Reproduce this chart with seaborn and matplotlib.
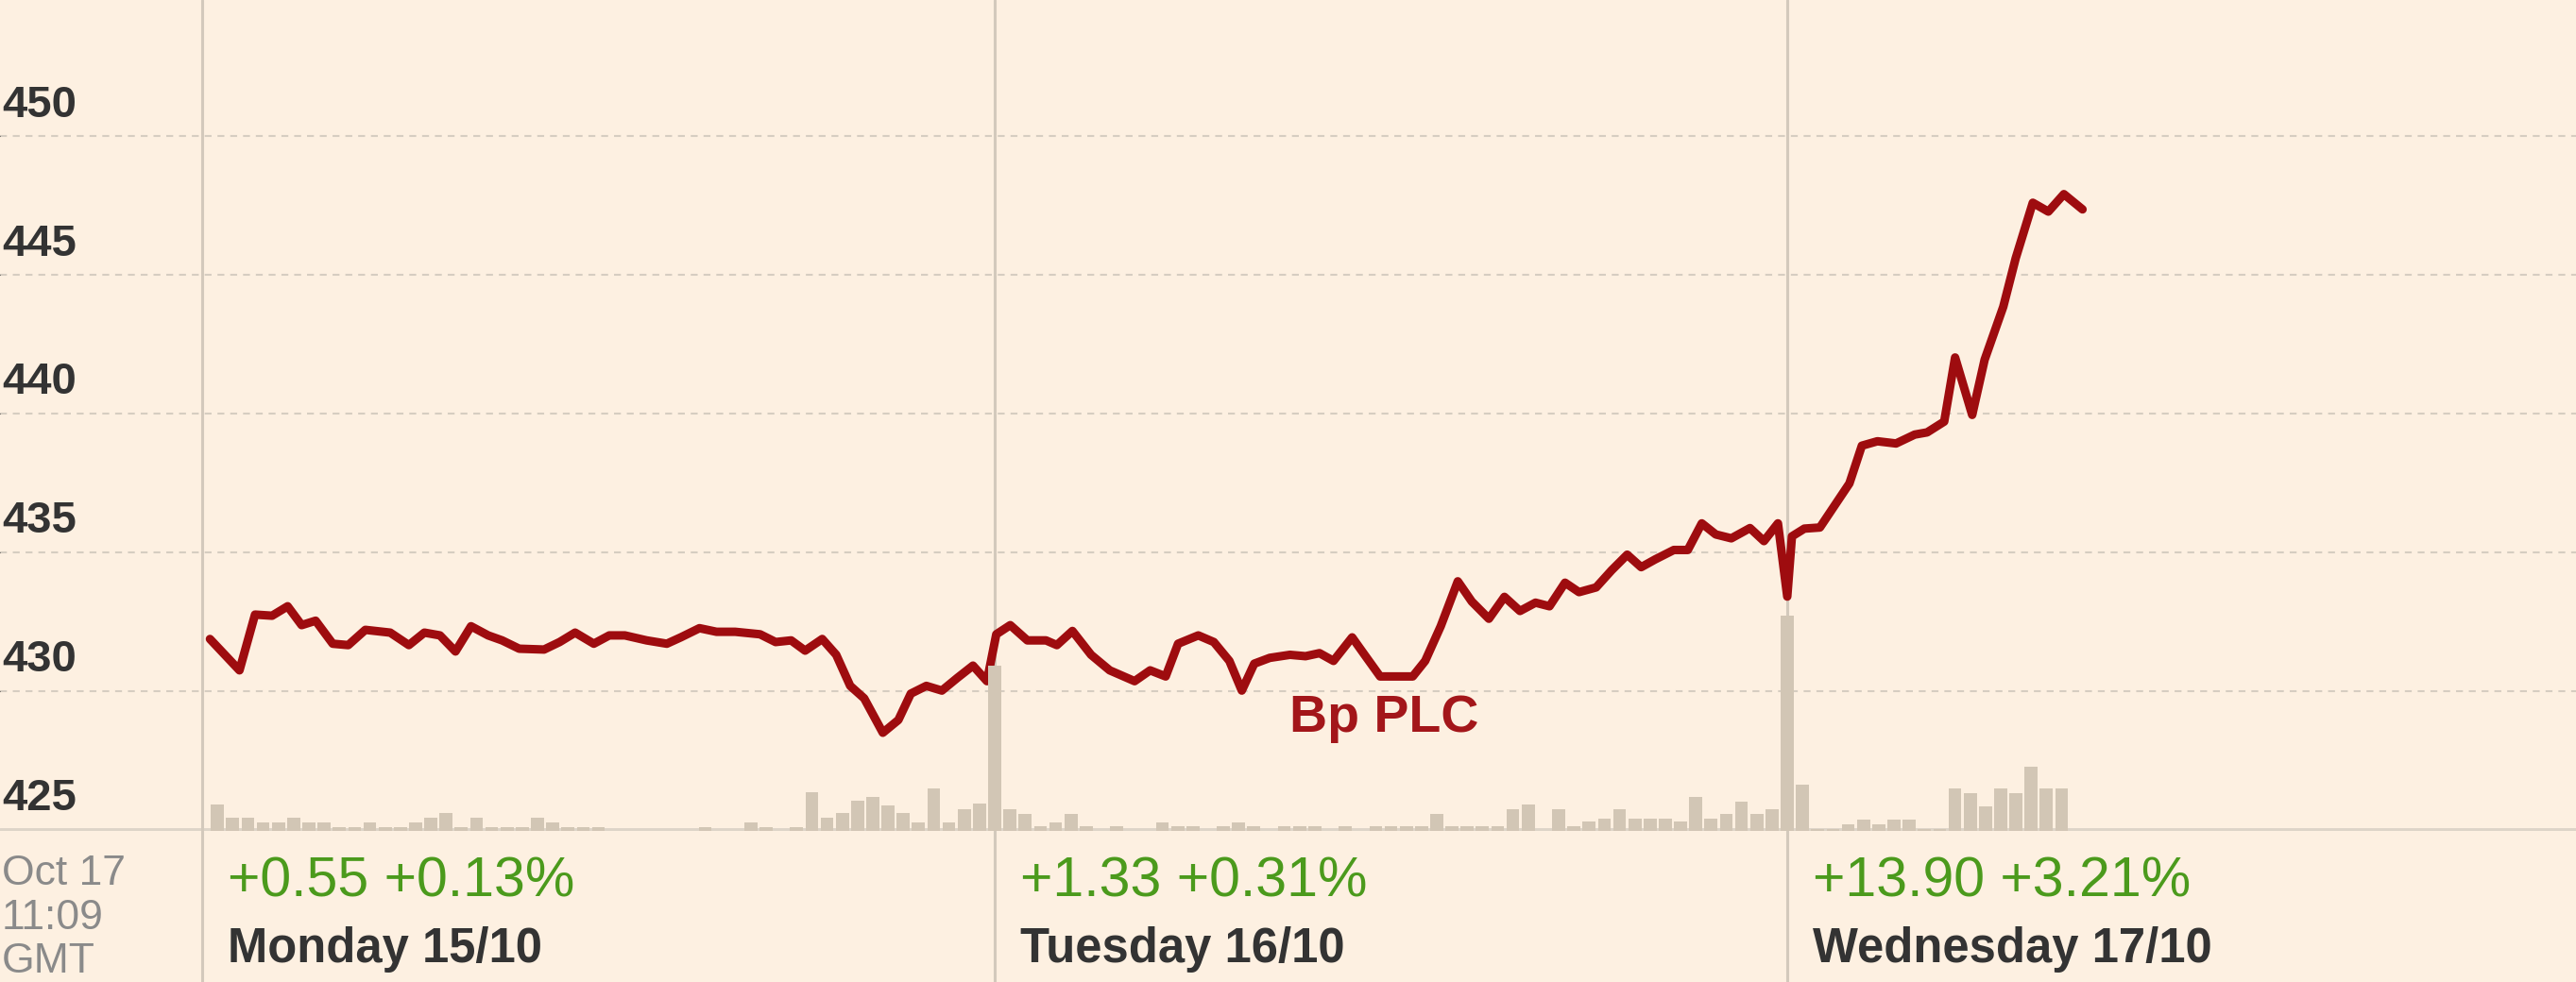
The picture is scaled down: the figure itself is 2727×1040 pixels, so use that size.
import numpy as np
import pandas as pd
import matplotlib.pyplot as plt
import seaborn as sns

sns.set_style("white")
plt.rcParams['font.family'] = ['Liberation Sans', 'DejaVu Sans']

# intraday price, minutes after 08:00 for each session
mon_min = [5, 24, 34, 45, 55, 64, 73, 84, 94, 105, 121, 133, 143, 153, 163, 173, 184, 193, 204, 220,
           230, 240, 252, 262, 272, 286, 299, 308, 320, 331, 343, 359, 369, 379, 388, 399, 408, 417,
           426, 438, 448, 456, 466, 476, 486, 496, 505]
mon_px = [431.87, 430.74, 432.75, 432.71, 433.05, 432.37, 432.53, 431.70, 431.65, 432.2, 432.1, 431.65,
          432.1, 432.0, 431.42, 432.33, 432.0, 431.82, 431.52, 431.49, 431.76, 432.1, 431.70, 432.0,
          432.0, 431.82, 431.70, 431.93, 432.26, 432.13, 432.13, 432.04, 431.76, 431.82, 431.45, 431.87,
          431.3, 430.18, 429.73, 428.49, 428.95, 429.9, 430.18, 430.01, 430.47, 430.91, 430.35]
tue_min = [1, 10, 21, 33, 40, 50, 62, 74, 90, 100, 110, 118, 131, 141, 151, 159, 167, 177, 190, 200,
           209, 218, 230, 238, 248, 254, 269, 277, 287, 298, 307, 318, 328, 338, 348, 357, 367, 376,
           387, 397, 407, 416, 425, 437, 446, 455, 464, 474, 486, 495, 504]
tue_px = [432.04, 432.37, 431.82, 431.82, 431.65, 432.16, 431.3, 430.74, 430.35, 430.74, 430.52, 431.70,
          432.0, 431.76, 431.08, 430.01, 430.98, 431.19, 431.3, 431.25, 431.36, 431.08, 431.93, 431.3,
          430.52, 430.52, 430.52, 431.08, 432.33, 433.95, 433.22, 432.6, 433.39, 432.88, 433.18, 433.05,
          433.9, 433.56, 433.73, 434.35, 434.91, 434.46, 434.74, 435.08, 435.08, 436.04, 435.64, 435.5,
          435.87, 435.4, 436.04]
wed_min = [0, 3, 11, 21, 40, 48, 58, 70, 82, 90, 101, 108, 119, 127, 139, 147, 158, 168, 178, 190]
wed_px = [433.4, 435.57, 435.85, 435.89, 437.48, 438.84, 439.0, 438.92, 439.24, 439.32, 439.71, 442.02,
          439.95, 441.94, 443.85, 445.6, 447.6, 447.28, 447.91, 447.36]

# volume per ~10 minute bucket (relative units)
mon_vol = [0, 28, 14, 14, 9, 9, 14, 9, 9, 4, 4, 9, 4, 4, 9, 14, 19, 4, 14, 4, 4, 4, 14, 9, 4, 4,
           4, 0, 0, 0, 0, 0, 0, 4, 0, 0, 9, 4, 0, 4, 41, 14, 19, 32, 36, 27, 19, 9, 45, 9, 23, 29]
tue_vol = [175, 23, 18, 5, 9, 18, 5, 0, 5, 0, 0, 9, 5, 5, 0, 5, 9, 5, 0, 5, 5, 5, 0, 5, 0, 5,
           5, 5, 5, 18, 5, 5, 5, 5, 23, 28, 0, 23, 5, 10, 13, 23, 13, 13, 13, 10, 36, 13, 18, 31, 18, 23]
wed_vol = [228, 49, 2, 2, 7, 12, 7, 12, 12, 2, 2, 45, 40, 26, 45, 40, 68, 45, 45]

days = ["Monday 15/10", "Tuesday 16/10", "Wednesday 17/10"]
changes = ["+0.55 +0.13%", "+1.33 +0.31%", "+13.90 +3.21%"]
y_labels = [425, 430, 435, 440, 445, 450]
stamp = ["Oct 17", "11:09", "GMT"]
name = "Bp PLC"

BG = '#fdf0e1'
RED = '#9e0c0f'
VOL = '#d2c6b5'
GRID = '#d6cdc1'
VLINE = '#d3c9bc'
GREEN = '#4b9a1c'
DARK = '#333333'

price = pd.DataFrame({
    'x': [d + m / 510 for d, mins in enumerate([mon_min, tue_min, wed_min]) for m in mins],
    'price': mon_px + tue_px + wed_px,
})
vol = pd.DataFrame({
    'x': [d + k / 52 for d, v in enumerate([mon_vol, tue_vol, wed_vol]) for k in range(len(v))],
    'volume': mon_vol + tue_vol + wed_vol,
})

fig = plt.figure(figsize=(27.27, 10.40), dpi=100)
fig.patch.set_facecolor(BG)
ax = fig.add_axes([0, 160 / 1040, 1, 880 / 1040])
ax_b = fig.add_axes([0, 0, 1, 160 / 1040])
xlim = (-0.2551, 2.9952)

ax.set_facecolor(BG)
ax.set_xlim(*xlim)
ax.set_ylim(424.95, 454.91)
ax.set_yticks(y_labels[1:])
ax.yaxis.grid(True, color=GRID, linewidth=1.5, linestyle=(0, (3.5, 3)))
ax.xaxis.grid(False)
ax.tick_params(left=False, bottom=False, labelleft=False, labelbottom=False)
for s in ax.spines.values():
    s.set_visible(False)
ax.axhline(y_labels[0], color='#ddd4c8', linewidth=3.5, zorder=1)
for d in range(3):
    ax.axvline(d, color=VLINE, linewidth=2.2, zorder=1)

sns.lineplot(data=price, x='x', y='price', ax=ax, color=RED, lw=6.5, sort=False,
             solid_joinstyle='round', solid_capstyle='round', zorder=3)
ax.set_xlabel('')
ax.set_ylabel('')

for v in y_labels:
    ax.text(-0.158, v + 0.7, str(v), ha='right', va='baseline', fontsize=34,
            fontweight='bold', color=DARK)
ax.text(1.491, 429.0, name, ha='center', va='center', fontsize=40, fontweight='bold', color='#a3161a')

ax2 = ax.twinx()
ax2.bar(vol['x'], vol['volume'], width=0.85 / 52, color=VOL, linewidth=0)
ax2.set_ylim(0, 880)
ax2.axis('off')

ax_b.set_facecolor(BG)
ax_b.set_xlim(*xlim)
ax_b.set_ylim(1040, 880)
ax_b.axis('off')
for d in range(3):
    ax_b.axvline(d, color=VLINE, linewidth=2.2)
    ax_b.text(d + 0.032, 950, changes[d], ha='left', va='baseline', fontsize=42.5, color=GREEN)
    ax_b.text(d + 0.032, 1019, days[d], ha='left', va='baseline', fontsize=36.5,
              fontweight='bold', color=DARK)
for i, s in enumerate(stamp):
    ax_b.text(xlim[0] + 0.002, 937 + 46.5 * i, s, ha='left', va='baseline', fontsize=32, color='#8a8a8a')

fig.savefig('out.png', dpi=100, facecolor=BG)
